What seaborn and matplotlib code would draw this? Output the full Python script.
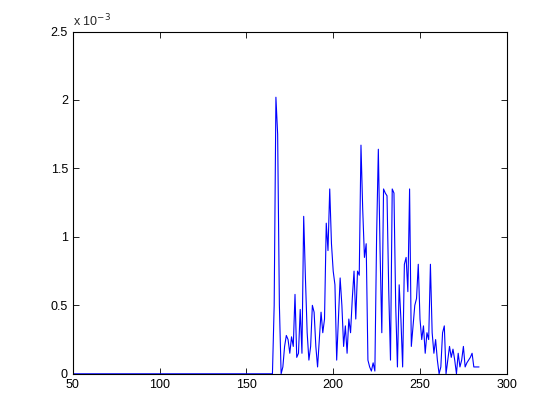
import matplotlib
matplotlib.use("Agg")
import matplotlib.pyplot as plt
import seaborn as sns
import pandas as pd
from matplotlib.ticker import FuncFormatter

# values (y in absolute units, scale 1e-3)
x_flat = [50, 164]
y_flat = [0.0, 0.0]

x_active = list(range(165, 285))
y_active_e3 = [
    0.0, 0.5, 2.02, 1.75, 0.5, 0.0,  # 165-170
    0.05, 0.2, 0.28, 0.25, 0.15, 0.27, 0.2, 0.58, 0.12, 0.15,  # 171-180
    0.47, 0.15, 1.15, 0.7, 0.3, 0.1, 0.2, 0.5, 0.45, 0.2,  # 181-190
    0.05, 0.25, 0.45, 0.3, 0.4, 1.1, 0.9, 1.35, 0.95, 0.75,  # 191-200
    0.65, 0.1, 0.4, 0.7, 0.5, 0.2, 0.35, 0.15, 0.4, 0.3,  # 201-210
    0.55, 0.75, 0.4, 0.75, 0.72, 1.67, 1.2, 0.85, 0.95, 0.1,  # 211-220
    0.05, 0.02, 0.08, 0.02, 1.0, 1.64, 0.9, 0.3, 1.35, 1.32,  # 221-230
    1.3, 0.6, 0.1, 1.35, 1.32, 0.5, 0.05, 0.65, 0.4, 0.05,  # 231-240
    0.8, 0.85, 0.6, 1.35, 0.2, 0.35, 0.5, 0.55, 0.8, 0.4,  # 241-250
    0.25, 0.35, 0.15, 0.3, 0.25, 0.8, 0.3, 0.15, 0.25, 0.1,  # 251-260
    0.0, 0.05, 0.3, 0.35, 0.0, 0.1, 0.2, 0.12, 0.18, 0.1,  # 261-270
    0.0, 0.15, 0.05, 0.1, 0.2, 0.05, 0.08, 0.1, 0.12, 0.15,  # 271-280
    0.05, 0.05, 0.05, 0.05,  # 281-284
]
y_active = [v * 1e-3 for v in y_active_e3]

df = pd.DataFrame({"x": x_flat + x_active, "y": y_flat + y_active})

sns.set_style("ticks")
plt.rcParams["font.family"] = ["Liberation Sans", "DejaVu Sans"]

fig = plt.figure(figsize=(5.6, 4.2), dpi=100, facecolor="white")
ax = fig.add_axes([0.13, 0.11, 0.775, 0.815])
sns.lineplot(data=df, x="x", y="y", color="#0000ff", linewidth=0.8, ax=ax)

ax.set_xlim(50, 300)
ax.set_ylim(0, 2.5e-3)
ax.set_xticks([50, 100, 150, 200, 250, 300])
ax.set_yticks([0, 0.5e-3, 1e-3, 1.5e-3, 2e-3, 2.5e-3])
ax.yaxis.set_major_formatter(FuncFormatter(lambda v, _: f"{v * 1e3:g}"))
ax.set_xlabel("")
ax.set_ylabel("")
for s in ax.spines.values():
    s.set_visible(True)
    s.set_color("black")
    s.set_linewidth(0.8)
ax.tick_params(direction="in", length=4, width=0.6, top=True, right=True,
               labelsize=9, colors="black")
ax.text(0.0, 1.005, "x 10$^{-3}$", transform=ax.transAxes, fontsize=9,
        ha="left", va="bottom")

fig.savefig("out.png", dpi=100, facecolor="white")
